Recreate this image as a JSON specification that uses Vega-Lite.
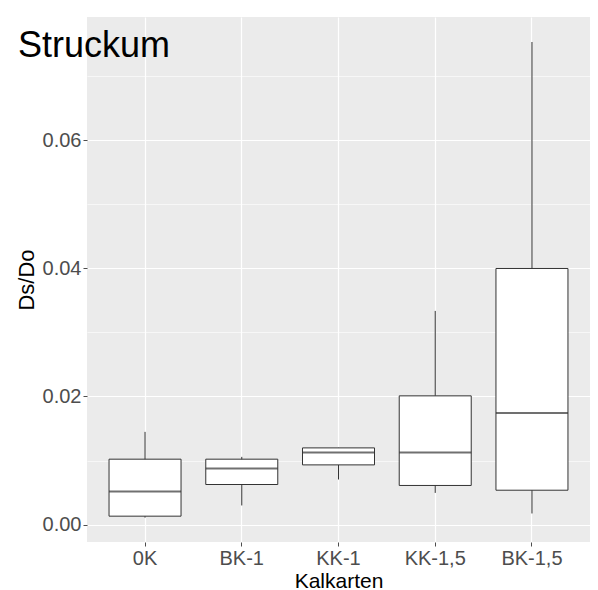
{
  "$schema": "https://vega.github.io/schema/vega-lite/v6.json",
  "width": 503,
  "height": 525,
  "padding": {"left": 15, "top": 17, "right": 0, "bottom": 0},
  "background": "white",
  "title": {
    "text": "Struckum",
    "anchor": "start",
    "frame": "bounds",
    "fontSize": 36,
    "font": "Liberation Sans",
    "fontWeight": "normal",
    "color": "black",
    "offset": -48,
    "dx": 3
  },
  "data": {
    "values": [
      {"group": "0K", "lower": 0.0011, "q1": 0.00133, "median": 0.00518, "q3": 0.01022, "upper": 0.01448},
      {"group": "BK-1", "lower": 0.0030, "q1": 0.00627, "median": 0.00877, "q3": 0.01022, "upper": 0.01058},
      {"group": "KK-1", "lower": 0.00705, "q1": 0.00933, "median": 0.01126, "q3": 0.01198, "upper": 0.0120},
      {"group": "KK-1,5", "lower": 0.00496, "q1": 0.00612, "median": 0.01126, "q3": 0.0201, "upper": 0.03335},
      {"group": "BK-1,5", "lower": 0.00175, "q1": 0.00538, "median": 0.01744, "q3": 0.03997, "upper": 0.0753}
    ]
  },
  "encoding": {
    "x": {
      "field": "group",
      "type": "nominal",
      "sort": null,
      "title": "Kalkarten",
      "scale": {"paddingInner": 0, "paddingOuter": 0.1},
      "axis": {
        "labelAngle": 0,
        "labelFontSize": 20,
        "labelColor": "#4d4d4d",
        "labelFont": "Liberation Sans",
        "titleFont": "Liberation Sans",
        "titleFontSize": 21,
        "titleFontWeight": "normal",
        "titleColor": "black",
        "titlePadding": 2,
        "labelPadding": 2,
        "tickColor": "#4d4d4d",
        "tickSize": 4,
        "domain": false,
        "grid": true,
        "gridColor": "white",
        "gridWidth": 1.2,
        "bandPosition": 0.5
      }
    }
  },
  "layer": [
    {
      "mark": {"type": "rule", "color": "#333333", "strokeWidth": 1},
      "encoding": {
        "y": {
          "field": "lower",
          "type": "quantitative",
          "title": "Ds/Do",
          "scale": {"domain": [-0.0027, 0.0792], "nice": false, "zero": false},
          "axis": {
            "values": [0, 0.01, 0.02, 0.03, 0.04, 0.05, 0.06, 0.07],
            "labelExpr": "round(datum.value * 100) % 2 == 0 ? format(datum.value, '.2f') : ''",
            "labelFontSize": 20,
            "labelColor": "#4d4d4d",
            "labelFont": "Liberation Sans",
            "titleFont": "Liberation Sans",
            "titleFontSize": 22,
            "titleFontWeight": "normal",
            "titleColor": "black",
            "titlePadding": 4,
            "labelPadding": 2,
            "tickColor": "#4d4d4d",
            "tickSize": 4,
            "tickOpacity": {"condition": {"test": "round(datum.value * 100) % 2 == 0", "value": 1}, "value": 0},
            "domain": false,
            "grid": true,
            "gridColor": "white",
            "gridWidth": {"condition": {"test": "round(datum.value * 100) % 2 == 0", "value": 1.2}, "value": 0.6}
          }
        },
        "y2": {"field": "upper"}
      }
    },
    {
      "mark": {"type": "bar", "fill": "white", "stroke": "#333333", "strokeWidth": 1, "width": 72},
      "encoding": {
        "y": {"field": "q1", "type": "quantitative"},
        "y2": {"field": "q3"}
      }
    },
    {
      "mark": {"type": "tick", "color": "#333333", "thickness": 2, "size": 72},
      "encoding": {
        "y": {"field": "median", "type": "quantitative"}
      }
    }
  ],
  "config": {
    "view": {"fill": "#EBEBEB", "stroke": null}
  }
}
